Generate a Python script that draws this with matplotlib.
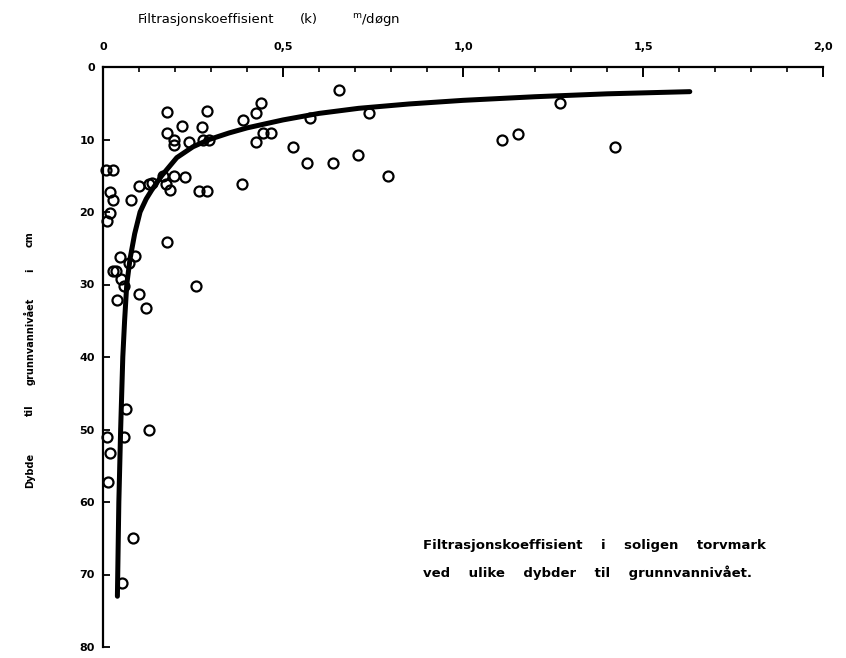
import matplotlib
matplotlib.use("Agg")
import matplotlib.pyplot as plt

# measured filtration coefficient k (m/døgn) against depth to groundwater (cm)
k_obs = [0.177, 0.288, 0.439, 0.426, 0.388, 0.656, 0.574, 0.219, 0.276, 0.177,
         0.197, 0.197, 0.238, 0.279, 0.294, 0.426, 0.445, 0.467, 0.529, 0.566,
         0.638, 0.707, 0.008, 0.029, 0.019, 0.027, 0.019, 0.010, 0.078, 0.099,
         0.127, 0.135, 0.166, 0.175, 0.186, 0.197, 0.227, 0.266, 0.288, 0.385,
         0.177, 0.047, 0.089, 0.072, 0.027, 0.036, 0.049, 0.058, 0.258, 0.038,
         0.101, 0.119, 0.064, 0.012, 0.057, 0.129, 0.019, 0.013, 0.082, 0.052,
         0.738, 1.270, 1.108, 1.152, 1.421, 0.791]
depth_obs = [6.2, 6.1, 5.0, 6.4, 7.3, 3.2, 7.0, 8.2, 8.3, 9.1,
             10.0, 10.8, 10.3, 10.1, 10.1, 10.3, 9.1, 9.1, 11.1, 13.3,
             13.2, 12.2, 14.2, 14.2, 17.2, 18.3, 20.1, 21.2, 18.3, 16.4,
             16.1, 16.0, 15.1, 16.2, 17.0, 15.1, 15.2, 17.1, 17.1, 16.2,
             24.1, 26.2, 26.1, 27.1, 28.1, 28.1, 29.2, 30.2, 30.2, 32.2,
             31.3, 33.2, 47.2, 51.0, 51.0, 50.1, 53.3, 57.3, 65.0, 71.2,
             6.4, 5.0, 10.1, 9.2, 11.0, 15.1]

# drawn trend line
k_curve = [0.040, 0.044, 0.049, 0.055, 0.060, 0.066, 0.075, 0.088, 0.103, 0.120,
           0.135, 0.163, 0.205, 0.250, 0.295, 0.350, 0.400, 0.500, 0.600, 0.710,
           0.850, 1.000, 1.200, 1.400, 1.630]
depth_curve = [73.0, 60.0, 50.0, 40.0, 35.0, 30.0, 26.5, 23.0, 20.0, 18.2,
               17.0, 15.0, 12.5, 11.0, 10.0, 9.1, 8.4, 7.3, 6.4, 5.7,
               5.1, 4.6, 4.1, 3.7, 3.4]

x_major = [0, 0.5, 1.0, 1.5, 2.0]
x_labels = ["0", "0,5", "1,0", "1,5", "2,0"]
x_minor = [i / 10 for i in range(21)]
y_major = list(range(0, 90, 10))

W, H = 846, 658
fig = plt.figure(figsize=(W / 100, H / 100), dpi=100)
ax = fig.add_axes([103 / W, 11 / H, 720 / W, 580 / H])

ax.plot(k_obs, depth_obs, "o", ms=7.2, mfc="none", mec="black", mew=1.6,
        clip_on=False, zorder=2)
ax.plot(k_curve, depth_curve, color="black", lw=3.6, solid_capstyle="round",
        zorder=3)

ax.set_xlim(0, 2.0)
ax.set_ylim(80, 0)

for side in ("bottom", "right"):
    ax.spines[side].set_visible(False)
for side in ("top", "left"):
    ax.spines[side].set_linewidth(1.6)

ax.xaxis.tick_top()
ax.set_xticks(x_major)
ax.set_xticklabels(x_labels)
ax.set_xticks(x_minor, minor=True)
ax.set_yticks(y_major)

ax.tick_params(axis="x", which="major", direction="in", length=7, width=1.4,
               pad=11, labelsize=8)
ax.tick_params(axis="x", which="minor", direction="in", length=3.8, width=1.2)
ax.tick_params(axis="y", which="major", direction="in", length=5, width=1.3,
               pad=6, labelsize=8)
for lab in ax.get_xticklabels() + ax.get_yticklabels():
    lab.set_fontweight("bold")

# axis title along the top
fig.text(138 / W, 1 - 19 / H, "Filtrasjonskoeffisient",
         ha="left", va="center", fontsize=9.5)
fig.text(300 / W, 1 - 19 / H, "(k)", ha="left", va="center", fontsize=9.5)
fig.text(352 / W, 1 - 19 / H, "$^{\\mathrm{m}}$/døgn",
         ha="left", va="center", fontsize=9.5)

# depth axis title, word by word
for word, yc in [("cm", 239), ("i", 270), ("grunnvannivået", 341),
                 ("til", 410), ("Dybde", 470)]:
    fig.text(30 / W, 1 - yc / H, word, rotation=90, ha="center",
             va="center", fontsize=7, fontweight="bold")

fig.text(423 / W, 1 - 546 / H,
         "Filtrasjonskoeffisient    i    soligen    torvmark",
         ha="left", va="center", fontsize=9.5, fontweight="bold")
fig.text(423 / W, 1 - 573 / H,
         "ved    ulike    dybder    til    grunnvannivået.",
         ha="left", va="center", fontsize=9.5, fontweight="bold")

fig.savefig("out.png", dpi=100)
